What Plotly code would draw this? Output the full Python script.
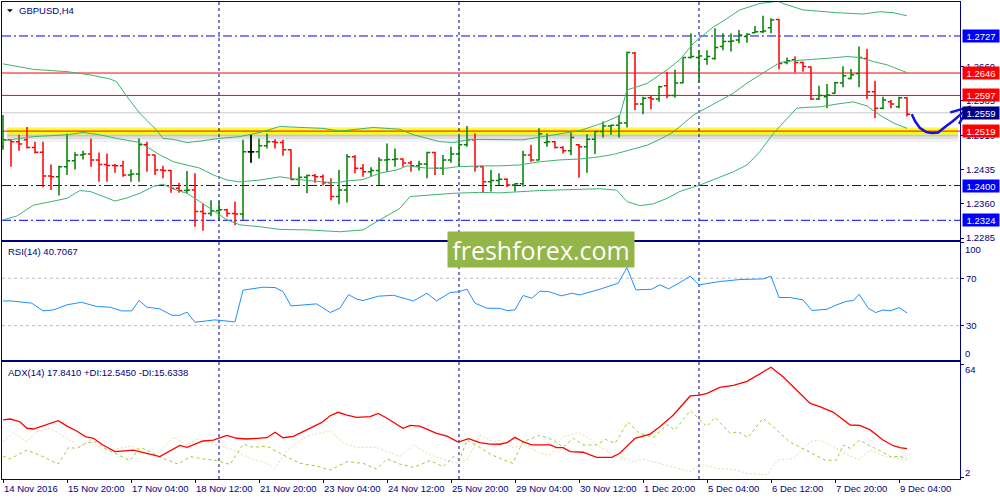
import plotly.graph_objects as go

# ---------------- data ----------------
BAR_OPEN = [1.2485, 1.2500, 1.2496, 1.2500, 1.2483, 1.2473, 1.2421, 1.2419, 1.2441, 1.2454,
            1.2467, 1.2469, 1.2456, 1.2446, 1.2444, 1.2443, 1.2423, 1.2425, 1.2489, 1.2467,
            1.2434, 1.2433, 1.2394, 1.2389, 1.2390, 1.2343, 1.2339, 1.2345, 1.2347, 1.2339,
            1.2338, 1.2474, 1.2474, 1.2487, 1.2496, 1.2494, 1.2478, 1.2413, 1.2418, 1.2422,
            1.2419, 1.2406, 1.2376, 1.2390, 1.2463, 1.2438, 1.2430, 1.2433, 1.2456, 1.2457,
            1.2458, 1.2449, 1.2443, 1.2447, 1.2472, 1.2438, 1.2456, 1.2469, 1.2489, 1.2500,
            1.2441, 1.2408, 1.2411, 1.2414, 1.2401, 1.2404, 1.2467, 1.2456, 1.2494, 1.2496,
            1.2483, 1.2476, 1.2489, 1.2485, 1.2501, 1.2518, 1.2530, 1.2532, 1.2537, 1.2690,
            1.2578, 1.2592, 1.2589, 1.2618, 1.2597, 1.2625, 1.2680, 1.2680, 1.2676, 1.2678,
            1.2704, 1.2715, 1.2718, 1.2726, 1.2734, 1.2736, 1.2745, 1.2763, 1.2669, 1.2675,
            1.2669, 1.2659, 1.2589, 1.2594, 1.2602, 1.2624, 1.2634, 1.2645, 1.2678, 1.2605,
            1.2569, 1.2583, 1.2572, 1.2592]
BAR_HIGH = [1.2554, 1.2501, 1.2511, 1.2528, 1.2496, 1.2496, 1.2446, 1.2443, 1.2513, 1.2473,
            1.2476, 1.2503, 1.2472, 1.2470, 1.2447, 1.2454, 1.2435, 1.2503, 1.2496, 1.2468,
            1.2443, 1.2434, 1.2406, 1.2432, 1.2427, 1.2360, 1.2368, 1.2366, 1.2349, 1.2365,
            1.2500, 1.2511, 1.2503, 1.2513, 1.2501, 1.2500, 1.2479, 1.2440, 1.2424, 1.2425,
            1.2424, 1.2416, 1.2434, 1.2469, 1.2467, 1.2447, 1.2440, 1.2462, 1.2492, 1.2481,
            1.2459, 1.2454, 1.2454, 1.2474, 1.2474, 1.2467, 1.2485, 1.2507, 1.2530, 1.2514,
            1.2442, 1.2434, 1.2427, 1.2416, 1.2405, 1.2476, 1.2489, 1.2525, 1.2514, 1.2497,
            1.2486, 1.2516, 1.2491, 1.2512, 1.2520, 1.2540, 1.2533, 1.2554, 1.2693, 1.2692,
            1.2594, 1.2598, 1.2618, 1.2649, 1.2653, 1.2680, 1.2733, 1.2696, 1.2696, 1.2744,
            1.2733, 1.2733, 1.2740, 1.2733, 1.2749, 1.2771, 1.2766, 1.2764, 1.2680, 1.2682,
            1.2671, 1.2660, 1.2618, 1.2622, 1.2627, 1.2661, 1.2655, 1.2704, 1.2699, 1.2629,
            1.2594, 1.2587, 1.2594, 1.2593]
BAR_LOW = [1.2478, 1.2441, 1.2476, 1.2481, 1.2470, 1.2396, 1.2390, 1.2378, 1.2423, 1.2435,
           1.2457, 1.2441, 1.2408, 1.2408, 1.2428, 1.2419, 1.2408, 1.2408, 1.2430, 1.2423,
           1.2416, 1.2384, 1.2384, 1.2383, 1.2310, 1.2301, 1.2333, 1.2325, 1.2332, 1.2313,
           1.2325, 1.2450, 1.2459, 1.2481, 1.2481, 1.2465, 1.2412, 1.2400, 1.2383, 1.2406,
           1.2400, 1.2368, 1.2359, 1.2363, 1.2427, 1.2419, 1.2419, 1.2401, 1.2430, 1.2441,
           1.2441, 1.2430, 1.2433, 1.2416, 1.2423, 1.2423, 1.2450, 1.2441, 1.2485, 1.2430,
           1.2384, 1.2387, 1.2401, 1.2396, 1.2387, 1.2398, 1.2452, 1.2455, 1.2485, 1.2481,
           1.2470, 1.2466, 1.2417, 1.2428, 1.2469, 1.2505, 1.2511, 1.2505, 1.2527, 1.2565,
           1.2556, 1.2567, 1.2583, 1.2591, 1.2592, 1.2623, 1.2678, 1.2625, 1.2664, 1.2675,
           1.2696, 1.2693, 1.2711, 1.2712, 1.2733, 1.2733, 1.2733, 1.2654, 1.2665, 1.2647,
           1.2649, 1.2587, 1.2587, 1.2569, 1.2601, 1.2615, 1.2632, 1.2615, 1.2589, 1.2547,
           1.2567, 1.2569, 1.2569, 1.2551]
BAR_CLOSE = [1.2500, 1.2496, 1.2491, 1.2483, 1.2473, 1.2421, 1.2419, 1.2441, 1.2454, 1.2467,
             1.2469, 1.2456, 1.2446, 1.2444, 1.2443, 1.2423, 1.2425, 1.2489, 1.2467, 1.2434,
             1.2433, 1.2394, 1.2389, 1.2390, 1.2343, 1.2339, 1.2345, 1.2347, 1.2339, 1.2338,
             1.2474, 1.2474, 1.2487, 1.2496, 1.2494, 1.2478, 1.2413, 1.2418, 1.2422, 1.2419,
             1.2406, 1.2376, 1.2390, 1.2463, 1.2438, 1.2430, 1.2433, 1.2456, 1.2457, 1.2458,
             1.2449, 1.2443, 1.2447, 1.2472, 1.2438, 1.2456, 1.2469, 1.2489, 1.2500, 1.2441,
             1.2408, 1.2411, 1.2414, 1.2401, 1.2404, 1.2467, 1.2456, 1.2513, 1.2496, 1.2483,
             1.2476, 1.2505, 1.2485, 1.2501, 1.2518, 1.2530, 1.2532, 1.2537, 1.2691, 1.2578,
             1.2591, 1.2589, 1.2616, 1.2597, 1.2624, 1.2680, 1.2682, 1.2683, 1.2682, 1.2702,
             1.2715, 1.2716, 1.2729, 1.2731, 1.2736, 1.2738, 1.2762, 1.2667, 1.2673, 1.2669,
             1.2660, 1.2589, 1.2597, 1.2598, 1.2625, 1.2640, 1.2642, 1.2680, 1.2605, 1.2569,
             1.2587, 1.2578, 1.2592, 1.2556]
BAR_INDEX = list(range(len(BAR_OPEN)))
DOJI_INDEX = [31]

BB_UPPER_X = [0, 3.8, 8, 10.9, 13.4, 14.2, 15.5, 17.1, 19.2, 20, 21.3, 23, 24.6, 27, 29.6, 32.1, 34.6,
              37.1, 40, 42.1, 46.3, 49.6, 51.3, 54.6, 56.3, 58.4, 59.6, 65, 70, 72.1, 75, 77.1, 78,
              80.5, 83, 84.6, 86.3, 88.8, 89.6, 92.1, 94.6, 96.9, 97.5, 100, 104.2, 107.5, 109.6,
              111.3, 113]
BB_UPPER = [1.2666, 1.2654, 1.2649, 1.2642, 1.2633, 1.2627, 1.2594, 1.2558, 1.2521, 1.2503, 1.2501,
            1.2494, 1.2497, 1.2503, 1.2507, 1.2516, 1.2529, 1.2527, 1.2525, 1.2519, 1.2527, 1.2523,
            1.2511, 1.2496, 1.2494, 1.2501, 1.2501, 1.2500, 1.2514, 1.2520, 1.2537, 1.2553, 1.2609,
            1.2623, 1.2653, 1.2675, 1.2711, 1.2747, 1.2755, 1.2784, 1.2798, 1.2803, 1.2798, 1.2784,
            1.2778, 1.2775, 1.2780, 1.2778, 1.2771]
BB_MID_X = [0, 3.8, 8, 10, 12.1, 14.2, 17.1, 19.6, 21.3, 23, 24.6, 26.3, 28, 29.6, 32.1, 34.6, 38, 40,
            41.7, 43, 45, 47.1, 49.2, 50.5, 53, 55.5, 56.7, 59.6, 62.1, 64.6, 67.1, 69.6, 72.1, 74.6,
            76.3, 78.4, 80.5, 82.1, 83.8, 86.3, 88.4, 89.6, 91.3, 93, 94.6, 95.9, 97.1, 98.8, 101.3,
            103, 105.5, 107.1, 108.8, 110.5, 112.1, 113]
BB_MID = [1.2498, 1.2507, 1.2511, 1.2516, 1.2511, 1.2503, 1.2494, 1.2467, 1.2452, 1.2445, 1.2438,
          1.2423, 1.2412, 1.2408, 1.2412, 1.2419, 1.2411, 1.2408, 1.2406, 1.2410, 1.2413, 1.2427,
          1.2434, 1.2443, 1.2438, 1.2438, 1.2441, 1.2443, 1.2443, 1.2445, 1.2452, 1.2456, 1.2458,
          1.2463, 1.2468, 1.2478, 1.2488, 1.2501, 1.2517, 1.2554, 1.2574, 1.2586, 1.2602, 1.2624,
          1.2642, 1.2656, 1.2669, 1.2673, 1.2675, 1.2678, 1.2682, 1.2680, 1.2671, 1.2664, 1.2653,
          1.2647]
BB_LOWER_X = [0, 1.7, 3.8, 5.9, 8, 9.6, 10.9, 12.1, 14, 15.5, 17.1, 18.8, 20, 21.3, 23, 24.6, 26.3,
              28, 29.6, 32.1, 34.6, 38, 42.1, 45, 47.1, 49.6, 50.9, 53, 56.3, 59.6, 62.1, 67.1, 72.1,
              74.6, 76.7, 78, 79.6, 81.3, 83, 84.6, 87.1, 89.6, 91.3, 93, 94.6, 96.3, 98, 99.2,
              100.5, 102.1, 104.2, 106.3, 108, 109.6, 111.3, 113]
BB_LOWER = [1.2325, 1.2333, 1.2357, 1.2365, 1.2372, 1.2389, 1.2387, 1.2379, 1.2366, 1.2373, 1.2383,
            1.2398, 1.2403, 1.2392, 1.2383, 1.2365, 1.2345, 1.2325, 1.2314, 1.2310, 1.2304, 1.2303,
            1.2299, 1.2303, 1.2325, 1.2350, 1.2376, 1.2379, 1.2383, 1.2385, 1.2384, 1.2389, 1.2392,
            1.2393, 1.2390, 1.2365, 1.2356, 1.2360, 1.2372, 1.2387, 1.2401, 1.2418, 1.2430, 1.2445,
            1.2474, 1.2514, 1.2547, 1.2569, 1.2571, 1.2572, 1.2578, 1.2583, 1.2574, 1.2554, 1.2537,
            1.2525]

RSI_X = [0, 1, 3.6, 5, 6.3, 8, 9.8, 11.7, 13.4, 14.8, 16.1, 17, 18, 19.6, 21.1, 22.1, 23, 24, 26.5, 29,
         30, 32.5, 34, 35, 36, 39.2, 40.9, 42.1, 43.2, 44.2, 45, 46.9, 48.8, 51.3, 53, 54.2, 55.9,
         56.9, 58, 59, 60.5, 62.1, 63, 64, 65, 66.1, 67.1, 68.2, 69.8, 71.1, 72.1, 74.6, 76.9, 78,
         79.1, 81.1, 82.1, 83.2, 84.6, 85.9, 87, 89.6, 92.1, 95, 96, 97, 98.4, 100, 101.1, 103,
         104.2, 105.5, 106.3, 107, 108.2, 109.1, 110, 110.9, 112, 113]
RSI_VAL = [50.8, 50.8, 48.9, 42.4, 43.2, 47.5, 49.7, 46.1, 45.5, 42.4, 42.4, 51.1, 45.5, 44.1, 38.7,
           38.7, 41.3, 32.8, 34.8, 33.1, 59.9, 62.4, 62.1, 58.7, 46.6, 48.3, 41.0, 44.6, 56.2, 52.3,
           51.1, 54.8, 55.6, 50.8, 57.3, 50.8, 57.9, 58.5, 60.7, 48.9, 44.6, 44.6, 42.7, 43.2, 55.4,
           53.1, 59.0, 58.7, 55.1, 57.3, 55.9, 60.7, 65.8, 79.0, 60.1, 60.7, 64.4, 61.0, 66.3, 71.7,
           64.4, 67.2, 68.9, 69.4, 71.7, 53.7, 53.7, 51.7, 42.7, 43.8, 47.5, 50.6, 51.1, 56.5, 44.4,
           41.0, 43.2, 42.4, 45.2, 40.7]

ADX_X = [0, 0.9, 2.1, 3, 3.8, 5, 6.9, 8, 9.2, 10.3, 11.3, 12.5, 14, 16.3, 17.5, 19.6, 22.1, 23, 25,
         26.3, 28, 29.2, 30.5, 33, 34, 35, 36.3, 38.4, 39.8, 40.9, 41.9, 43, 44.2, 45.9, 46.9, 48, 50,
         50.9, 52.1, 54.2, 55.5, 56.9, 58.2, 59.6, 60.9, 62.1, 63, 64, 65, 66.1, 68.4, 69.2, 70, 70.9,
         72.5, 74.2, 76.1, 77.1, 79, 80.9, 82.1, 83.8, 85.9, 87.1, 88, 89.6, 91.3, 93, 94.6, 96, 97.5,
         98.8, 100.9, 102.1, 103.8, 105.9, 107.1, 108.4, 110, 111.3, 112.1, 113]
ADX_VAL = [33.6, 34.1, 32.6, 29.0, 28.6, 30.4, 33.2, 30.2, 27.5, 24.4, 23.5, 19.8, 16.1, 17.0, 15.6,
           13.4, 19.6, 18.5, 22.0, 22.5, 25.1, 23.5, 23.1, 23.8, 26.8, 23.8, 24.5, 28.8, 32.1, 35.9,
           37.8, 36.3, 35.0, 35.4, 37.2, 34.5, 29.0, 30.6, 30.2, 26.2, 24.7, 21.4, 23.3, 21.1, 20.3,
           20.2, 21.1, 24.0, 21.6, 19.8, 19.8, 18.3, 18.3, 16.1, 15.8, 13.0, 13.0, 15.2, 23.5, 25.8,
           29.9, 36.3, 46.8, 47.3, 48.2, 51.5, 52.6, 54.8, 59.2, 62.6, 57.4, 51.9, 42.7, 40.9, 37.8,
           30.8, 30.6, 28.1, 22.5, 19.4, 18.3, 17.8]
PDI_X = [0, 0.9, 3, 5, 6.9, 8.2, 9.2, 10.5, 11.7, 12.5, 14.2, 15.9, 17.1, 18.4, 19.6, 21.9, 23.4, 25,
         26.7, 28.4, 30, 31.3, 33, 35, 37.1, 39.2, 40.9, 43, 45, 46.7, 48, 49.6, 51.3, 53.4, 55, 56.3,
         57.1, 58, 59.6, 60.9, 62.1, 63.7, 65, 67.1, 68.8, 70, 71.3, 72.5, 74.2, 75.3, 76.5, 78.1,
         79.6, 81.3, 83, 84, 85.9, 88, 89, 90.9, 91.9, 93.1, 95, 96.6, 98.3, 100.4, 102.9, 104.2, 105,
         105.9, 107.1, 108.4, 109.6, 110.9, 112.1, 113]
PDI_VAL = [13.7, 12.1, 17.0, 13.4, 9.3, 18.5, 17.9, 21.1, 21.6, 18.5, 14.8, 11.2, 18.5, 16.1, 13.0,
           9.3, 13.4, 12.1, 11.2, 9.1, 20.3, 18.5, 19.2, 14.3, 9.7, 8.2, 6.0, 10.6, 9.7, 6.6, 12.1, 9.3,
           7.5, 11.2, 7.8, 13.4, 11.9, 22.5, 18.5, 14.8, 12.4, 9.7, 21.6, 25.1, 22.5, 18.5, 23.5, 19.8,
           19.8, 22.9, 20.7, 32.4, 26.2, 24.0, 31.0, 28.0, 38.7, 29.9, 35.0, 26.2, 27.1, 23.8, 34.5,
           28.6, 21.6, 16.7, 11.2, 11.5, 19.8, 17.9, 22.5, 19.2, 16.7, 13.4, 13.4, 12.5]
MDI_X = [0, 1.3, 3, 4.2, 5.9, 8, 9.6, 10.9, 12.5, 14.6, 16.1, 17.5, 19.2, 21.3, 23, 24.2, 26.3, 28.8,
         30.9, 33, 34, 35.5, 38, 40.9, 42.5, 44.2, 46.7, 49.6, 51.3, 53.4, 55, 56.7, 58, 59.6, 61.3,
         62.1, 63.7, 65.4, 67.1, 68.4, 70, 71.9, 72.9, 74.6, 76.3, 78.8, 80, 82.1, 83.8, 85.9, 87.1,
         89.2, 91.3, 93, 95.5, 96.8, 98.8, 100.9, 102.1, 103.8, 105.5, 107.1, 108.4, 110.4, 112.1, 113]
MDI_VAL = [21.6, 26.6, 21.6, 27.1, 29.0, 23.5, 18.5, 22.5, 17.0, 17.9, 19.2, 16.1, 14.3, 24.0, 19.8,
           22.9, 20.7, 17.0, 12.4, 9.7, 6.9, 17.0, 24.7, 27.7, 21.1, 18.5, 18.5, 13.4, 19.8, 14.3,
           11.9, 9.7, 11.5, 25.3, 21.6, 22.5, 18.5, 19.8, 15.2, 14.3, 24.4, 26.6, 24.4, 18.9, 14.3,
           10.6, 12.1, 9.7, 7.5, 5.1, 9.3, 6.9, 6.4, 4.2, 3.3, 11.5, 12.4, 21.6, 22.5, 18.9, 14.3,
           11.9, 17.0, 13.4, 12.1, 11.5]

PRICE_TICKS = [1.2285, 1.2360, 1.2435, 1.2510, 1.2585, 1.2660]
LEVEL_PRICES = [1.2727, 1.2646, 1.2597, 1.2559, 1.2519, 1.2400, 1.2324]
LEVEL_LINE_COLORS = ["#0000FF", "#FF0000", "#FF0000", "#C8C8C8", "#FF0000", "#0000FF", "#0000FF"]
LEVEL_DASH = ["9px,3px,2px,3px", "solid", "solid", "solid", "solid", "9px,3px,2px,3px", "9px,3px,2px,3px"]
LEVEL_BOX_COLORS = ["#0000FF", "#FF0000", "#FF0000", "#000080", "#FF0000", "#0000FF", "#0000FF"]
TIME_TICK_INDEX = [0, 8, 16, 24, 32, 40, 48, 56, 64, 72, 80, 88, 96, 104, 112]
TIME_TICK_LABELS = ["14 Nov 2016", "15 Nov 20:00", "17 Nov 04:00", "18 Nov 12:00", "21 Nov 20:00",
                    "23 Nov 04:00", "24 Nov 12:00", "25 Nov 20:00", "29 Nov 04:00", "30 Nov 12:00",
                    "1 Dec 20:00", "5 Dec 04:00", "6 Dec 12:00", "7 Dec 20:00", "9 Dec 04:00"]
WEEK_SEPARATORS = [27, 57, 87]
ARROW_IDX = [113.6, 114.0, 114.6, 115.4, 116.1, 116.9, 117.75, 118.75, 119.6, 120.6]
ARROW_PRICE = [1.2556, 1.2541, 1.2526, 1.2517, 1.2515, 1.2516, 1.2528, 1.2541, 1.2554, 1.2570]
ARROW_HEAD_IDX = [118.4, 120.7, 119.5]
ARROW_HEAD_PRICE = [1.2560, 1.2571, 1.2535]

# ---------------- layout geometry ----------------
W, H = 1000, 500
ML, MR, MT, MB = 2, 40, 2, 21
PW, PH = W - ML - MR, H - MT - MB
X_RANGE = [-0.125, 119.625]
MAIN_RANGE = [1.22809, 1.28013]
RSI_RANGE = [0.9, 100.6]
ADX_RANGE = [1.06, 65.5]
MAIN_DOM = [(479 - 240) / PH, 1.0]
RSI_DOM = [(479 - 360) / PH, (479 - 242) / PH]
ADX_DOM = [0.0, (479 - 362) / PH]
NAVY = "#000080"
FONT = "Liberation Sans"


def px_x(px):
    return (px - ML) / PW


def px_y(py):
    return (H - MB - py) / PH


def main_pt(idx, price):
    xp = (idx - X_RANGE[0]) / (X_RANGE[1] - X_RANGE[0])
    yp = MAIN_DOM[0] + (price - MAIN_RANGE[0]) / (MAIN_RANGE[1] - MAIN_RANGE[0]) * (MAIN_DOM[1] - MAIN_DOM[0])
    return f"{xp:.5f},{yp:.5f}"


fig = go.Figure()

# bars
fig.add_trace(go.Ohlc(x=BAR_INDEX, open=BAR_OPEN, high=BAR_HIGH, low=BAR_LOW, close=BAR_CLOSE,
                      increasing=dict(line=dict(color="#008000", width=1.5)),
                      decreasing=dict(line=dict(color="#FF0000", width=1.5)),
                      tickwidth=0.4, hoverinfo="skip", xaxis="x", yaxis="y", showlegend=False))
fig.add_trace(go.Ohlc(x=[BAR_INDEX[i] for i in DOJI_INDEX], open=[BAR_OPEN[i] for i in DOJI_INDEX],
                      high=[BAR_HIGH[i] for i in DOJI_INDEX], low=[BAR_LOW[i] for i in DOJI_INDEX],
                      close=[BAR_CLOSE[i] for i in DOJI_INDEX],
                      increasing=dict(line=dict(color="#000000", width=1.5)),
                      decreasing=dict(line=dict(color="#000000", width=1.5)),
                      tickwidth=0.4, hoverinfo="skip", xaxis="x", yaxis="y", showlegend=False))

# bollinger bands
for bx, by in [(BB_UPPER_X, BB_UPPER), (BB_MID_X, BB_MID), (BB_LOWER_X, BB_LOWER)]:
    fig.add_trace(go.Scatter(x=bx, y=by, mode="lines", line=dict(color="#3CB371", width=1),
                             hoverinfo="skip", xaxis="x", yaxis="y", showlegend=False))

# RSI
fig.add_trace(go.Scatter(x=RSI_X, y=RSI_VAL, mode="lines", line=dict(color="#1E90FF", width=1),
                         hoverinfo="skip", xaxis="x2", yaxis="y2", showlegend=False))

# ADX
fig.add_trace(go.Scatter(x=MDI_X, y=MDI_VAL, mode="lines", line=dict(color="#F2D6A6", width=1, dash="2px,2px"),
                         hoverinfo="skip", xaxis="x3", yaxis="y3", showlegend=False))
fig.add_trace(go.Scatter(x=PDI_X, y=PDI_VAL, mode="lines", line=dict(color="#9ACD32", width=1, dash="3px,3px"),
                         hoverinfo="skip", xaxis="x3", yaxis="y3", showlegend=False))
fig.add_trace(go.Scatter(x=ADX_X, y=ADX_VAL, mode="lines", line=dict(color="#FF0000", width=1.3),
                         hoverinfo="skip", xaxis="x3", yaxis="y3", showlegend=False))

shapes = []
# yellow highlighted band at 1.2519
px_to_price = (MAIN_RANGE[1] - MAIN_RANGE[0]) / (238.0)
band_c = LEVEL_PRICES[4]
for top_px, bot_px, col, op in [(2.9, -3.3, "#FFFF00", 1.0), (-3.3, -5.5, "#808080", 0.45),
                                (-5.5, -8.0, "#909090", 0.28), (-8.0, -11.0, "#A0A0A0", 0.14),
                                (3.9, 2.9, "#C0C0C0", 0.3)]:
    shapes.append(dict(type="rect", xref="x domain", yref="y", x0=px_x(7), x1=px_x(958),
                       y0=band_c + bot_px * px_to_price, y1=band_c + top_px * px_to_price,
                       fillcolor=col, opacity=op, line=dict(width=0), layer="below"))
for p, c, d in zip(LEVEL_PRICES, LEVEL_LINE_COLORS, LEVEL_DASH):
    shapes.append(dict(type="line", xref="x domain", yref="y", x0=0, x1=1, y0=p, y1=p,
                       line=dict(color=c, width=1, dash=d), layer="below"))
# RSI levels
for lv in [30, 70]:
    shapes.append(dict(type="line", xref="x2 domain", yref="y2", x0=0, x1=1, y0=lv, y1=lv,
                       line=dict(color="#C0C0C0", width=1, dash="3px,3px"), layer="below"))
# week separators
for s in WEEK_SEPARATORS:
    shapes.append(dict(type="line", xref="x", yref="paper", x0=s, x1=s, y0=0, y1=1,
                       line=dict(color=NAVY, width=1, dash="3px,3px"), layer="below"))
# title triangle
shapes.append(dict(type="path", xref="paper", yref="paper",
                   path=f"M {px_x(7):.5f},{px_y(9.3):.5f} L {px_x(12.8):.5f},{px_y(9.3):.5f} L {px_x(9.9):.5f},{px_y(12.3):.5f} Z",
                   fillcolor="#000000", line=dict(width=0)))
# hand-drawn arrow
path = "M " + " L ".join(main_pt(i, p) for i, p in zip(ARROW_IDX, ARROW_PRICE))
shapes.append(dict(type="path", xref="paper", yref="paper", path=path,
                   line=dict(color="#1010E8", width=2.5)))
head = "M " + " L ".join(main_pt(i, p) for i, p in zip(ARROW_HEAD_IDX, ARROW_HEAD_PRICE))
shapes.append(dict(type="path", xref="paper", yref="paper", path=head,
                   line=dict(color="#1010E8", width=2.5)))

annotations = []
# price boxes
for p, c in zip(LEVEL_PRICES, LEVEL_BOX_COLORS):
    annotations.append(dict(xref="paper", yref="y", x=px_x(962), y=p, xanchor="left", yanchor="middle",
                            text=f"{p:.4f}", showarrow=False, bgcolor=c, borderpad=1, width=34, height=10,
                            font=dict(family=FONT, size=9.5, color="#FFFFFF")))
# RSI / ADX extra labels
for txt, yv, yr in [("100", 94.5, "y2"), ("0", 6.7, "y2"), ("64", 61.5, "y3"), ("2", 4.5, "y3")]:
    annotations.append(dict(xref="paper", yref=yr, x=px_x(964), y=yv, xanchor="left", yanchor="middle",
                            text=txt, showarrow=False, borderpad=0,
                            font=dict(family=FONT, size=9.5, color=NAVY)))
# panel titles
annotations.append(dict(xref="paper", yref="paper", x=px_x(17.5), y=px_y(10.5), xanchor="left", yanchor="middle",
                        text="GBPUSD,H4", showarrow=False, borderpad=0,
                        font=dict(family=FONT, size=9.5, color=NAVY)))
annotations.append(dict(xref="paper", yref="paper", x=px_x(6.5), y=px_y(251.5), xanchor="left", yanchor="middle",
                        text="RSI(14) 40.7067", showarrow=False, borderpad=0,
                        font=dict(family=FONT, size=9.5, color=NAVY)))
annotations.append(dict(xref="paper", yref="paper", x=px_x(7), y=px_y(372), xanchor="left", yanchor="middle",
                        text="ADX(14) 17.8410 +DI:12.5450 -DI:15.6338", showarrow=False, borderpad=0,
                        font=dict(family=FONT, size=9.5, color=NAVY)))
# time labels
for ti, tl in zip(TIME_TICK_INDEX, TIME_TICK_LABELS):
    annotations.append(dict(xref="x3", yref="paper", x=ti, y=px_y(488.5), xanchor="left", yanchor="middle",
                            text=tl, showarrow=False, borderpad=0,
                            font=dict(family=FONT, size=9.5, color=NAVY)))
# watermark
annotations.append(dict(xref="paper", yref="paper", x=px_x(541), y=px_y(249.2), xanchor="center", yanchor="middle",
                        text="freshforex.com", showarrow=False, bgcolor="#94B548", width=182, height=31,
                        borderpad=2, font=dict(family="Open Sans", size=25, color="#FFFFFF")))

axis_common = dict(showline=True, mirror=True, linecolor=NAVY, linewidth=1, showgrid=False,
                   zeroline=False, fixedrange=True)

fig.update_layout(
    width=W, height=H, margin=dict(l=ML, r=MR, t=MT, b=MB),
    paper_bgcolor="#FFFFFF", plot_bgcolor="#FFFFFF", showlegend=False,
    font=dict(family=FONT, size=9.5, color=NAVY),
    xaxis=dict(domain=[0, 1], anchor="y", range=X_RANGE, showticklabels=False, ticks="",
               rangeslider=dict(visible=False), **axis_common),
    yaxis=dict(domain=MAIN_DOM, anchor="x", side="right", range=MAIN_RANGE, tickvals=PRICE_TICKS,
               ticktext=[f"{t:.4f}" for t in PRICE_TICKS], ticks="outside", ticklen=3, tickcolor=NAVY,
               tickfont=dict(family=FONT, size=9.5, color=NAVY), **axis_common),
    xaxis2=dict(domain=[0, 1], anchor="y2", range=X_RANGE, showticklabels=False, ticks="",
                **axis_common),
    yaxis2=dict(domain=RSI_DOM, anchor="x2", side="right", range=RSI_RANGE, tickvals=[0, 30, 70, 100],
                ticktext=["", "30", "70", ""], ticks="outside", ticklen=3, tickcolor=NAVY,
                tickfont=dict(family=FONT, size=9.5, color=NAVY), **axis_common),
    xaxis3=dict(domain=[0, 1], anchor="y3", range=X_RANGE, showticklabels=False, ticks="outside",
                ticklen=3, tickcolor=NAVY, tickvals=TIME_TICK_INDEX, **axis_common),
    yaxis3=dict(domain=ADX_DOM, anchor="x3", side="right", range=ADX_RANGE, tickvals=[2, 64],
                ticktext=["", ""], ticks="outside", ticklen=3, tickcolor=NAVY, **axis_common),
    shapes=shapes, annotations=annotations,
)

fig.write_html("out.html", config={"displayModeBar": False},
               post_script="document.body.style.margin='0';document.body.style.padding='0';"
                           "document.body.style.overflow='hidden';")
